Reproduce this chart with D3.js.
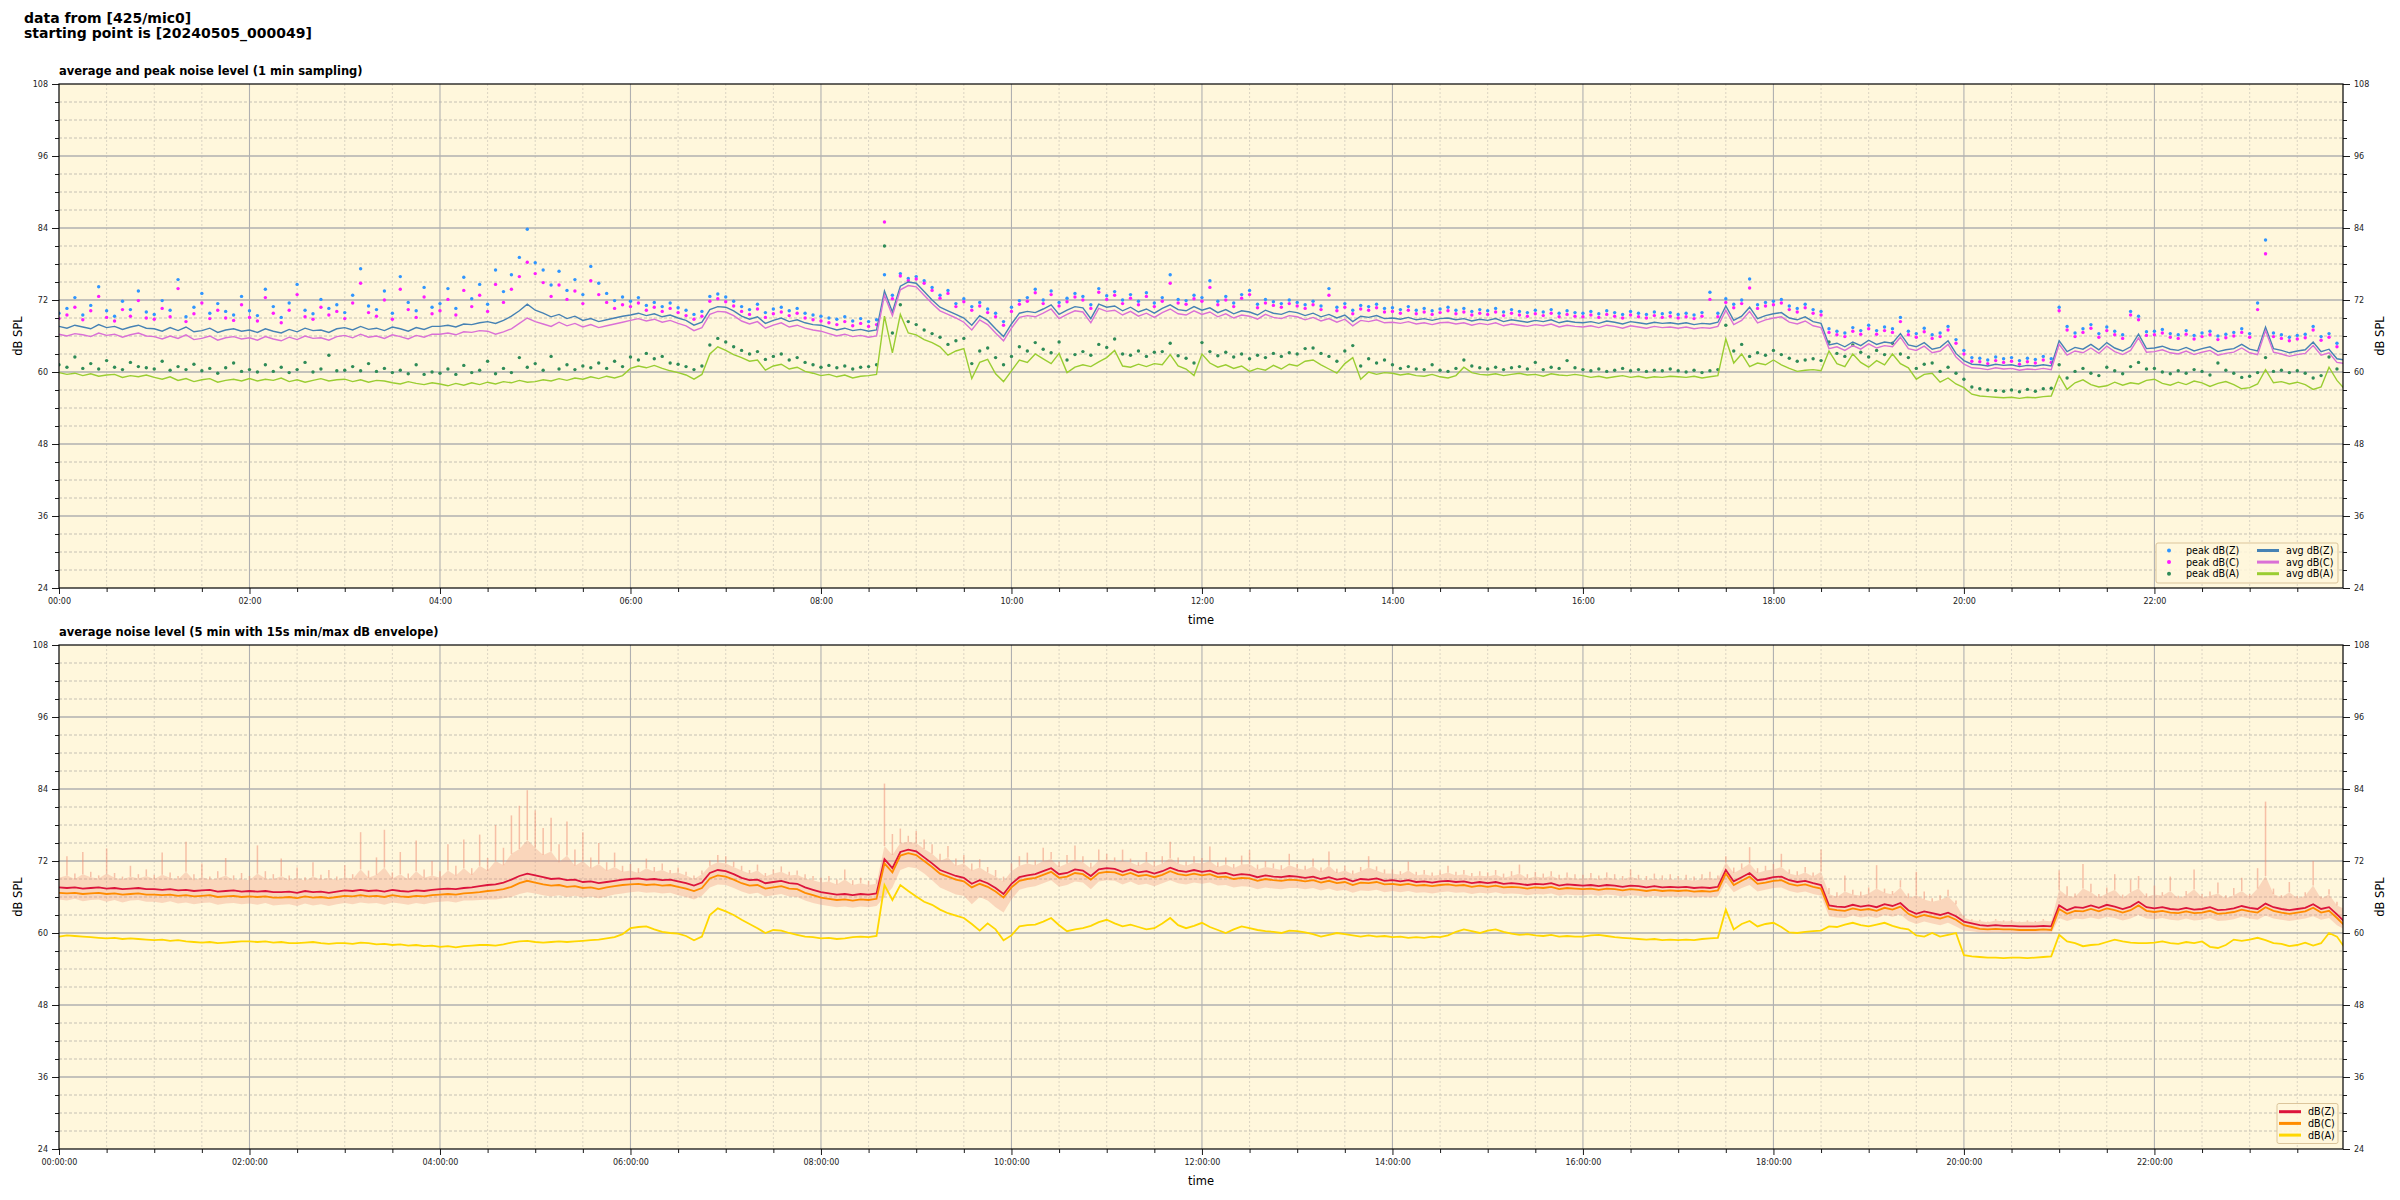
<!DOCTYPE html>
<html><head><meta charset="utf-8">
<script src="https://cdn.jsdelivr.net/npm/d3@7"></script>
<style>body{margin:0;background:#fff;} svg{display:block;font-family:"DejaVu Sans",sans-serif;}</style>
</head><body><svg id="c" width="2400" height="1200"></svg>
<script>
// ---------------- DATA (5-minute steps from 00:00) ----------------
const startDate = "2024-05-05";
const stepMinutes = 5;
const yTicks = [24, 36, 48, 60, 72, 84, 96, 108];
const legendTop = ["peak dB(Z)", "peak dB(C)", "peak dB(A)", "avg dB(Z)", "avg dB(C)", "avg dB(A)"];
const legendBottom = ["dB(Z)", "dB(C)", "dB(A)"];

const avgZ = [
67.6,67.3,67.8,67.5,67.2,67.9,67.4,67.6,67.1,67.5,67.8,67.3,
67.2,66.8,67.4,66.9,67.5,66.7,66.9,67.3,66.6,67.0,67.2,66.8,
67.0,66.6,67.2,66.8,66.5,67.1,66.7,67.3,66.9,67.0,66.6,67.2,
67.4,67.0,67.6,67.1,67.3,66.9,67.5,67.2,66.8,67.4,67.1,67.6,
67.6,67.8,67.5,68.0,67.9,68.2,68.4,68.1,68.6,69.3,70.2,71.3,
70.3,69.8,69.2,69.6,68.9,69.3,68.6,68.9,68.4,68.7,69.0,69.3,
69.5,69.8,69.4,69.7,69.2,69.5,69.0,68.6,67.8,68.3,70.4,70.9,
70.8,70.2,69.3,68.8,69.2,68.1,68.6,69.0,68.4,68.7,68.2,67.9,
67.8,67.4,67.0,67.3,66.9,67.1,66.8,67.0,73.5,70.0,74.3,75.0,
74.8,73.4,72.0,70.8,70.2,69.6,69.0,67.8,69.4,68.6,67.2,65.9,
68.0,69.8,70.1,69.9,70.5,71.2,69.6,70.3,70.9,70.7,68.9,71.3,
70.8,71.0,70.2,70.8,70.0,70.5,69.8,70.6,71.2,70.4,70.2,70.9,
70.3,70.7,69.9,70.4,69.7,70.2,70.0,69.5,70.3,69.8,69.6,70.1,
69.9,69.4,69.8,69.2,69.6,69.0,69.5,68.4,69.3,69.1,69.4,68.9,
69.0,68.8,69.1,68.7,68.9,68.6,68.9,69.0,68.7,68.9,68.5,68.8,
68.6,68.9,68.4,68.7,68.5,68.3,68.6,68.4,68.7,68.2,68.5,68.3,
68.2,68.4,68.1,68.5,68.3,68.0,68.4,68.2,68.0,68.3,68.1,68.2,
68.0,68.2,67.9,68.1,68.0,68.3,71.0,68.6,69.3,70.8,68.9,69.4,
69.7,69.9,69.0,68.7,69.2,68.4,68.1,64.5,64.8,64.2,65.0,64.4,
65.3,64.6,65.0,64.8,66.4,64.5,64.2,64.9,63.8,64.1,65.2,63.1,
61.9,61.3,61.2,61.0,61.3,61.1,61.2,60.9,61.1,61.0,61.2,61.0,
65.2,63.4,64.1,63.8,64.6,63.7,64.9,64.0,63.5,64.2,66.3,63.9,
64.0,64.3,63.8,63.6,64.1,63.5,63.9,64.2,63.4,63.7,63.9,64.6,
63.8,63.5,67.5,63.9,63.6,63.2,63.5,63.7,65.0,63.4,63.8,62.2,
62.0];

const avgC = [
66.3,66.0,66.4,66.2,65.9,66.5,66.1,66.3,65.8,66.2,66.5,66.0,
65.9,65.5,66.0,65.6,66.2,65.4,65.6,66.0,65.3,65.7,65.9,65.5,
65.7,65.3,65.9,65.5,65.2,65.8,65.4,66.0,65.6,65.7,65.3,65.9,
66.1,65.7,66.3,65.8,66.0,65.6,66.2,65.9,65.5,66.1,65.8,66.3,
66.3,66.5,66.2,66.7,66.6,66.9,66.8,66.3,66.7,67.2,68.1,69.0,
68.4,68.0,67.6,68.3,67.7,68.1,67.5,67.9,67.4,67.7,68.0,68.3,
68.6,68.9,68.5,68.8,68.3,68.6,68.1,67.7,66.9,67.4,69.6,70.1,
70.0,69.4,68.5,68.0,68.4,67.3,67.8,68.2,67.5,67.8,67.3,67.0,
66.8,66.4,66.0,66.3,65.9,66.1,65.8,66.0,72.8,69.4,73.7,74.4,
74.2,72.8,71.4,70.2,69.6,69.0,68.3,67.0,68.7,67.9,66.5,65.2,
67.3,69.1,69.4,69.2,69.8,70.5,68.9,69.6,70.2,70.0,68.2,70.6,
70.1,70.3,69.5,70.1,69.3,69.8,69.1,69.9,70.5,69.7,69.5,70.2,
69.6,70.0,69.2,69.7,69.0,69.5,69.3,68.8,69.6,69.1,68.9,69.4,
69.2,68.7,69.1,68.5,68.9,68.3,68.8,67.7,68.6,68.4,68.7,68.2,
68.3,68.1,68.4,68.0,68.2,67.9,68.2,68.3,68.0,68.2,67.8,68.1,
67.9,68.2,67.7,68.0,67.8,67.6,67.9,67.7,68.0,67.5,67.8,67.6,
67.5,67.7,67.4,67.8,67.6,67.3,67.7,67.5,67.3,67.6,67.4,67.5,
67.3,67.5,67.2,67.4,67.3,67.6,70.3,67.9,68.6,70.1,68.2,68.7,
69.0,69.2,68.3,68.0,68.5,67.7,67.4,63.9,64.2,63.6,64.4,63.8,
64.7,64.0,64.4,64.2,65.8,63.9,63.6,64.3,63.2,63.5,64.6,62.5,
61.3,60.7,60.6,60.4,60.7,60.5,60.6,60.3,60.5,60.4,60.6,60.4,
64.6,62.8,63.5,63.2,64.0,63.1,64.3,63.4,62.9,63.6,65.7,63.3,
63.4,63.7,63.2,63.0,63.5,62.9,63.3,63.6,62.8,63.1,63.3,64.0,
63.2,62.9,66.9,63.3,63.0,62.6,62.9,63.1,64.4,62.8,63.2,61.6,
61.4];

const avgA = [
59.9,59.6,59.8,59.4,59.7,59.3,59.5,59.6,59.1,59.4,59.2,59.5,
59.1,58.8,59.2,58.6,58.9,58.4,58.7,58.9,58.3,58.6,58.8,58.5,
58.9,58.5,58.8,58.6,59.0,58.4,58.7,58.3,58.6,58.9,58.5,58.7,
58.8,58.4,58.7,58.3,58.6,58.5,58.2,58.0,58.4,58.1,57.9,58.2,
58.0,57.7,58.1,57.8,58.2,57.9,58.3,58.0,58.4,58.2,58.6,58.3,
58.4,58.7,58.5,58.9,58.6,59.0,58.8,59.2,58.9,59.3,59.0,59.4,
60.6,61.0,60.7,61.1,60.6,60.2,59.9,59.5,58.8,59.6,63.0,64.2,
63.6,62.9,62.4,61.8,62.0,60.3,61.0,61.3,60.5,60.8,60.1,59.8,
59.4,59.6,59.2,59.5,59.0,59.3,59.4,59.6,69.3,63.2,69.6,66.5,
66.2,65.4,64.9,64.2,62.8,63.5,63.9,58.9,61.6,62.1,59.7,58.4,
60.2,62.0,61.6,63.0,62.2,61.4,63.1,59.9,60.8,61.2,60.9,61.7,
62.4,63.6,61.0,60.8,61.3,60.9,61.4,61.2,62.9,61.0,60.5,59.4,
63.0,61.5,60.8,61.2,60.6,61.0,60.1,60.6,60.3,61.1,60.5,61.3,
61.0,61.8,62.0,61.2,60.5,59.8,61.4,62.4,58.8,60.0,59.6,59.9,
59.8,59.5,59.7,59.4,59.3,59.6,59.2,59.0,59.4,60.8,59.9,59.6,
59.5,59.7,59.4,59.6,59.8,59.5,59.6,59.3,59.7,59.5,59.4,59.6,
59.4,59.1,59.3,59.0,59.2,59.4,59.1,59.3,59.0,59.2,59.1,59.3,
59.2,59.1,59.3,59.0,59.2,59.4,65.5,61.5,63.0,60.9,61.5,61.2,
62.0,61.2,60.6,60.1,60.3,60.4,60.2,63.5,61.4,60.9,63.0,61.6,
60.8,61.9,61.2,63.0,61.4,60.7,58.8,59.6,59.8,58.3,59.0,58.0,
57.4,56.3,56.0,55.9,55.8,55.7,55.8,55.6,55.8,55.7,55.9,56.0,
59.4,57.1,58.2,58.7,57.9,57.5,57.7,58.3,57.8,58.2,58.0,58.6,
58.8,58.1,57.8,58.3,57.9,58.5,58.2,57.6,58.1,58.4,57.9,57.2,
57.4,58.0,60.4,58.2,58.4,58.0,58.3,57.9,57.1,57.5,60.8,58.6,
57.1];

const peakZ = [
69.8,70.6,72.4,69.5,71.1,74.2,70.2,69.3,71.8,70.4,73.5,70.0,
69.6,71.9,70.3,75.4,69.2,70.8,73.1,69.8,71.4,70.1,69.5,72.6,
70.2,69.4,73.8,70.9,69.1,71.5,74.6,70.3,69.7,72.1,70.6,71.2,
69.9,72.8,77.2,71.0,70.4,73.5,69.8,75.9,71.6,70.2,74.1,70.8,
71.4,73.9,70.6,75.8,72.2,74.6,71.3,77.0,73.4,76.2,79.1,83.8,
78.2,77.0,74.5,76.8,73.6,75.4,72.9,77.6,74.8,73.1,71.9,72.5,
71.8,72.4,71.1,71.6,70.9,71.5,70.7,70.3,69.6,70.1,72.6,73.0,
72.5,71.8,70.9,70.4,71.3,69.9,70.5,70.8,70.2,70.6,69.8,69.5,
69.3,69.0,68.8,69.2,68.5,68.9,68.4,68.7,76.2,72.8,76.4,75.6,
75.9,75.2,74.1,72.8,73.6,71.4,72.2,70.9,71.6,70.5,69.8,68.4,
70.8,71.9,72.4,73.8,72.0,73.5,71.6,72.3,73.1,72.6,71.2,73.9,
72.7,73.4,72.0,72.9,71.8,73.2,71.5,72.4,76.2,72.1,71.9,72.8,
72.4,75.2,71.8,72.6,71.5,72.9,73.6,71.3,72.1,71.7,71.4,72.0,
71.6,71.2,71.8,71.0,73.9,70.8,71.4,70.3,71.1,70.9,71.3,70.6,
70.7,70.4,70.9,70.3,70.6,70.2,70.5,70.8,70.3,70.6,70.1,70.4,
70.2,70.6,70.0,70.4,70.1,69.9,70.3,70.0,70.4,69.8,70.2,69.9,
69.8,70.1,69.7,70.2,69.9,69.6,70.1,69.8,69.6,70.0,69.7,69.9,
69.6,69.8,69.5,69.9,73.3,69.8,72.2,71.3,72.0,75.5,71.2,71.6,
71.8,72.1,71.0,70.6,71.3,70.4,70.1,67.2,66.8,66.5,67.4,66.9,
67.8,66.9,67.5,67.2,69.1,66.8,66.4,67.3,66.2,66.5,67.6,65.4,
63.6,62.4,62.3,62.0,62.5,62.2,62.4,61.9,62.3,62.1,62.6,62.2,
70.8,67.6,66.5,67.2,67.9,66.4,67.5,66.8,66.2,70.1,69.3,66.7,
66.8,67.1,66.4,66.2,66.9,66.1,66.5,66.8,66.0,66.3,66.6,67.2,
66.4,71.5,82.0,66.5,66.2,65.8,66.1,66.3,67.6,65.9,66.4,64.8,
64.4];

const peakC = [
68.9,69.5,70.8,68.7,70.2,72.6,69.1,68.5,70.4,69.3,71.9,69.0,
68.8,70.6,69.2,73.9,68.4,69.7,71.5,68.9,70.3,69.0,68.6,71.2,
69.1,68.5,72.4,69.8,68.2,70.3,72.9,69.2,68.8,70.8,69.5,70.1,
68.9,71.5,74.8,69.9,69.3,72.0,68.8,73.8,70.4,69.1,72.5,69.7,
70.2,72.1,69.5,73.6,70.9,72.8,70.1,74.6,71.6,73.8,75.9,78.3,
76.4,74.9,72.6,74.5,72.1,73.5,71.4,75.2,72.9,71.6,70.6,71.2,
70.9,71.5,70.3,70.8,70.1,70.6,69.9,69.4,68.8,69.3,71.8,72.2,
71.7,71.0,70.1,69.6,70.5,69.1,69.7,70.0,69.4,69.8,69.0,68.7,
68.5,68.2,67.9,68.4,67.7,68.1,67.6,67.9,85.0,72.2,76.0,75.2,
75.5,74.8,73.6,72.3,73.1,70.9,71.7,70.3,71.0,69.9,69.2,67.8,
70.1,71.3,71.8,73.2,71.4,72.9,71.0,71.7,72.5,72.0,70.6,73.3,
72.1,72.8,71.4,72.3,71.2,72.6,70.9,71.8,74.8,71.5,71.3,72.2,
71.8,74.1,71.2,72.0,70.9,72.3,72.9,70.7,71.5,71.1,70.8,71.4,
71.0,70.6,71.2,70.4,72.8,70.2,70.8,69.7,70.5,70.3,70.7,70.0,
70.1,69.8,70.3,69.7,70.0,69.6,69.9,70.2,69.7,70.0,69.5,69.8,
69.6,70.0,69.4,69.8,69.5,69.3,69.7,69.4,69.8,69.2,69.6,69.3,
69.2,69.5,69.1,69.6,69.3,69.0,69.5,69.2,69.0,69.4,69.1,69.3,
69.0,69.2,68.9,69.3,72.1,69.2,71.6,70.7,71.4,74.0,70.6,71.0,
71.2,71.5,70.4,70.0,70.7,69.8,69.5,66.6,66.2,65.9,66.8,66.3,
67.2,66.3,66.9,66.6,68.4,66.2,65.8,66.7,65.6,65.9,67.0,64.8,
63.0,61.8,61.7,61.4,61.9,61.6,61.8,61.3,61.7,61.5,62.0,61.6,
70.2,67.0,65.9,66.6,67.3,65.8,66.9,66.2,65.6,69.5,68.7,66.1,
66.2,66.5,65.8,65.6,66.3,65.5,65.9,66.2,65.4,65.7,66.0,66.6,
65.8,70.4,79.7,65.9,65.6,65.2,65.5,65.7,67.0,65.3,65.8,64.2,
63.8];

const peakA = [
61.2,60.8,62.5,60.6,61.4,60.5,61.9,60.8,60.4,61.6,60.9,60.7,
60.5,61.8,60.3,60.9,60.4,61.3,60.2,60.6,59.8,60.7,61.5,60.1,
60.4,60.0,61.2,60.1,60.8,59.9,60.4,61.6,60.0,60.5,62.8,60.2,
60.3,60.9,60.2,61.4,60.1,60.6,59.9,60.3,59.7,61.2,59.6,60.0,
59.8,60.5,59.6,61.1,59.9,60.3,61.8,59.7,60.6,59.9,62.4,60.8,
61.4,60.3,62.6,60.5,61.2,60.4,61.0,60.7,61.5,60.6,61.8,60.9,
62.5,62.0,63.1,62.2,62.6,61.5,61.3,60.9,60.4,61.0,64.5,65.6,
65.0,64.2,63.6,63.0,63.4,62.1,62.6,63.0,62.0,62.4,61.6,61.2,
60.8,61.1,60.7,61.0,60.5,60.8,60.9,61.2,81.0,66.5,71.2,68.4,
67.9,67.0,66.4,65.8,64.6,65.2,65.6,61.4,63.5,64.0,62.4,61.2,
62.6,64.2,63.5,64.9,63.8,63.2,65.0,62.0,62.9,63.4,62.8,64.6,
64.1,65.5,63.0,62.8,63.5,62.6,63.3,63.4,64.8,62.7,62.3,61.5,
64.9,63.4,62.7,63.3,62.5,63.0,62.2,62.8,62.4,63.1,62.6,63.2,
63.0,63.9,64.0,63.1,62.6,61.8,63.5,64.4,61.0,62.2,61.5,62.0,
61.2,60.6,60.9,60.5,60.4,61.2,60.3,60.1,60.6,62.0,61.0,60.7,
60.5,60.8,60.4,60.7,60.9,60.5,61.6,60.4,60.8,60.6,61.9,60.7,
60.4,60.2,60.5,60.1,60.3,60.6,60.2,60.4,60.1,60.3,60.2,60.5,
60.2,60.0,60.3,59.9,60.2,60.4,67.8,63.5,64.6,62.6,63.2,62.8,
63.6,62.9,62.3,61.8,62.0,62.2,61.9,65.0,63.1,62.6,64.5,63.3,
62.5,63.6,62.9,64.8,63.0,62.4,60.6,61.3,61.5,60.1,60.8,59.8,
58.8,57.5,57.2,57.0,56.9,56.8,57.0,56.7,57.1,56.8,57.2,57.3,
61.2,59.0,60.1,60.6,59.8,59.4,60.8,60.2,59.7,60.9,61.6,60.5,
60.6,60.0,59.7,60.2,59.8,60.4,60.1,59.5,61.5,60.3,59.8,59.1,
59.3,59.9,62.4,60.1,60.3,59.9,60.2,59.8,59.0,59.4,62.5,60.5,
59.0];

// 5-min averages (bottom panel)
const lvlZ = [
67.6,67.5,67.6,67.4,67.5,67.6,67.4,67.5,67.3,67.4,67.5,67.3,
67.3,67.2,67.3,67.1,67.2,67.0,67.1,67.2,66.9,67.0,67.1,66.9,
67.0,66.9,67.0,66.8,66.8,66.9,66.7,67.0,66.8,66.9,66.7,66.9,
67.1,67.0,67.2,67.0,67.1,66.9,67.2,67.0,66.9,67.1,67.0,67.2,
67.3,67.4,67.3,67.5,67.6,67.8,68.0,68.1,68.4,68.9,69.5,69.9,
69.6,69.3,69.0,69.1,68.8,68.9,68.5,68.6,68.3,68.5,68.7,68.9,
69.0,69.1,68.9,69.0,68.8,68.9,68.6,68.3,67.9,68.4,70.0,70.5,
70.3,69.8,69.2,68.8,68.9,68.3,68.5,68.7,68.3,68.2,67.6,67.2,
66.8,66.6,66.4,66.5,66.3,66.5,66.4,66.6,72.3,70.8,73.5,73.9,
73.6,72.6,71.6,70.5,70.0,69.5,69.2,68.2,68.8,68.3,67.5,66.5,
68.2,69.3,69.6,69.8,70.3,70.8,69.8,70.0,70.6,70.4,69.5,70.6,
70.8,70.7,70.2,70.6,70.1,70.3,69.9,70.3,70.9,70.4,70.2,70.5,
70.2,70.4,69.9,70.0,69.6,69.8,69.7,69.3,69.6,69.4,69.3,69.5,
69.4,69.2,69.4,69.0,69.3,68.9,69.1,68.6,69.0,68.9,69.1,68.7,
68.8,68.6,68.8,68.5,68.6,68.4,68.6,68.7,68.5,68.6,68.3,68.5,
68.3,68.5,68.2,68.3,68.2,68.0,68.2,68.1,68.3,67.9,68.1,68.0,
67.9,68.0,67.8,68.0,67.9,67.7,67.9,67.8,67.6,67.8,67.6,67.7,
67.6,67.7,67.5,67.6,67.5,67.7,70.5,68.6,69.3,70.0,68.8,69.0,
69.3,69.4,68.8,68.5,68.7,68.3,68.0,64.6,64.4,64.3,64.7,64.4,
64.6,64.3,64.8,64.5,65.0,63.8,63.2,63.6,63.3,63.0,63.4,62.8,
61.9,61.6,61.3,61.2,61.3,61.2,61.2,61.1,61.1,61.1,61.2,61.1,
64.6,63.8,64.3,64.2,64.6,64.2,64.7,64.4,64.0,64.4,65.2,64.3,
64.1,64.3,64.0,63.9,64.2,63.9,64.0,64.3,63.8,63.9,64.1,64.5,
64.2,64.0,64.9,64.3,64.0,63.8,64.0,64.2,64.8,64.0,64.3,63.1,
61.8];

const lvlC = [
66.7,66.6,66.7,66.5,66.6,66.7,66.5,66.6,66.4,66.5,66.6,66.4,
66.4,66.3,66.4,66.2,66.3,66.1,66.2,66.3,66.0,66.1,66.2,66.0,
66.1,66.0,66.1,65.9,65.9,66.0,65.8,66.1,65.9,66.0,65.8,66.0,
66.2,66.1,66.3,66.1,66.2,66.0,66.3,66.1,66.0,66.2,66.1,66.3,
66.4,66.5,66.4,66.6,66.7,66.8,67.0,67.1,67.3,67.7,68.3,68.7,
68.4,68.1,67.9,68.0,67.7,67.8,67.5,67.6,67.3,67.6,67.8,68.0,
68.1,68.2,68.0,68.1,67.9,68.0,67.7,67.4,67.0,67.5,69.1,69.6,
69.4,68.9,68.3,67.9,68.0,67.4,67.6,67.8,67.4,67.3,66.7,66.3,
65.9,65.7,65.5,65.6,65.4,65.6,65.5,65.7,71.6,70.1,72.9,73.3,
73.0,72.0,71.0,69.9,69.4,68.9,68.6,67.6,68.2,67.7,66.9,65.9,
67.6,68.7,69.0,69.2,69.7,70.2,69.2,69.4,70.0,69.8,68.9,70.0,
70.2,70.1,69.6,70.0,69.5,69.7,69.3,69.7,70.3,69.8,69.6,69.9,
69.6,69.8,69.3,69.4,69.0,69.2,69.1,68.7,69.0,68.8,68.7,68.9,
68.8,68.6,68.8,68.4,68.7,68.3,68.5,68.0,68.4,68.3,68.5,68.1,
68.2,68.0,68.2,67.9,68.0,67.8,68.0,68.1,67.9,68.0,67.7,67.9,
67.7,67.9,67.6,67.7,67.6,67.4,67.6,67.5,67.7,67.3,67.5,67.4,
67.3,67.4,67.2,67.4,67.3,67.1,67.3,67.2,67.0,67.2,67.0,67.1,
67.0,67.1,66.9,67.0,66.9,67.1,69.9,68.0,68.7,69.4,68.2,68.4,
68.7,68.8,68.2,67.9,68.1,67.7,67.4,64.0,63.8,63.7,64.1,63.8,
64.0,63.7,64.2,63.9,64.4,63.2,62.6,63.0,62.7,62.4,62.8,62.2,
61.3,61.0,60.7,60.6,60.7,60.6,60.6,60.5,60.5,60.5,60.6,60.5,
64.0,63.2,63.7,63.6,64.0,63.6,64.1,63.8,63.4,63.8,64.6,63.7,
63.5,63.7,63.4,63.3,63.6,63.3,63.4,63.7,63.2,63.3,63.5,63.9,
63.6,63.4,64.3,63.7,63.4,63.2,63.4,63.6,64.2,63.4,63.7,62.5,
61.2];

const lvlA = [
59.4,59.6,59.5,59.4,59.3,59.2,59.1,59.2,59.0,59.1,59.0,58.9,
58.8,58.9,58.7,58.8,58.6,58.5,58.4,58.5,58.3,58.4,58.5,58.6,
58.6,58.5,58.6,58.4,58.5,58.3,58.3,58.4,58.5,58.3,58.2,58.3,
58.3,58.2,58.4,58.3,58.1,58.2,58.0,58.1,57.9,58.0,57.8,57.9,
57.7,57.8,57.6,57.8,57.9,58.0,58.0,57.9,58.1,58.4,58.6,58.7,
58.5,58.4,58.5,58.6,58.5,58.6,58.7,58.8,58.9,59.1,59.3,59.8,
60.8,61.0,61.1,60.6,60.2,60.0,59.9,59.5,58.8,59.4,63.0,64.1,
63.6,63.0,62.2,61.5,60.8,60.0,60.5,60.4,60.0,59.7,59.4,59.3,
59.1,59.2,59.0,59.1,59.3,59.4,59.3,59.5,68.0,65.5,68.0,67.0,
66.1,65.2,64.7,63.9,63.3,62.9,62.5,61.5,60.4,61.6,60.6,58.8,
59.6,61.1,61.3,61.4,61.9,62.5,61.3,60.3,60.6,60.8,61.2,61.8,
62.2,61.6,61.1,61.4,61.0,60.6,60.8,61.6,62.5,61.3,60.8,61.2,
61.7,61.0,60.5,60.0,60.6,61.1,60.8,60.5,60.3,60.2,60.0,60.4,
60.3,60.1,59.8,59.4,59.7,60.0,59.8,59.6,59.4,59.6,59.4,59.5,
59.3,59.4,59.2,59.3,59.2,59.4,59.3,59.6,60.2,60.6,60.3,60.0,
60.4,60.6,60.2,59.9,59.7,59.8,59.6,59.5,59.7,59.4,59.5,59.4,
59.4,59.6,59.7,59.5,59.3,59.2,59.1,59.0,58.9,59.0,58.8,58.9,
58.8,58.9,58.8,59.0,59.1,59.2,63.9,60.6,61.5,62.0,61.1,61.5,
61.7,61.0,60.1,60.0,60.2,60.3,60.4,61.1,61.0,61.4,61.7,61.3,
61.1,61.4,61.7,61.2,60.8,60.6,59.6,59.4,60.0,59.4,59.7,60.0,
56.3,56.1,56.0,55.9,55.9,55.8,55.9,55.9,55.8,55.9,56.0,56.1,
59.7,58.6,58.3,57.8,58.0,58.1,58.5,58.9,58.6,58.4,58.3,58.3,
58.4,58.6,58.3,58.2,58.5,58.3,58.6,57.7,57.5,58.0,58.9,58.7,
58.9,59.2,58.8,58.3,58.2,57.8,58.0,58.4,57.9,58.3,60.0,59.4,
57.5];

// 15 s envelope: dense band (envMin..envMax) and isolated spikes (envSpike)
const envMax = [
69.2,69.6,69.0,69.8,69.3,69.1,69.9,69.2,68.9,69.4,69.1,69.5,
69.0,69.7,69.2,68.9,70.2,68.8,69.3,68.9,69.1,69.6,68.8,69.0,
68.8,69.9,69.1,68.9,69.5,68.8,69.2,68.7,69.4,68.9,69.2,68.8,
69.3,69.0,70.6,69.2,69.7,70.9,69.1,69.8,68.9,70.3,69.2,69.6,
69.2,70.4,69.6,70.8,69.7,71.2,70.4,72.0,71.3,73.2,74.0,75.5,
74.2,73.0,73.6,71.8,72.9,71.2,72.0,70.8,71.5,70.4,71.0,70.2,
70.4,70.0,70.8,70.2,70.5,69.9,70.1,69.6,69.0,69.8,71.2,71.8,
71.6,71.0,70.4,69.9,70.4,69.4,69.9,70.2,69.6,69.7,69.1,68.8,
68.4,68.6,68.1,68.9,68.0,68.3,68.0,68.2,74.5,73.0,75.0,75.2,
75.0,74.0,73.2,72.0,72.6,71.2,71.6,70.4,70.9,70.1,69.4,68.6,
70.3,71.2,71.6,71.3,72.0,72.3,71.0,71.6,72.2,71.8,70.8,72.1,
72.2,71.9,72.0,71.8,71.2,71.9,71.1,71.6,72.5,71.6,71.2,71.7,
71.6,72.0,71.0,71.4,70.8,71.4,71.5,70.6,71.0,70.8,70.5,71.3,
70.8,70.5,71.1,70.2,71.2,70.0,70.4,69.8,70.3,70.9,70.4,69.9,
69.9,69.7,70.4,69.6,69.8,69.5,69.7,70.1,69.6,69.8,69.4,69.6,
69.4,69.7,69.2,69.5,69.9,69.1,69.4,69.2,69.5,69.0,69.3,69.1,
69.0,69.2,68.9,69.3,69.0,68.8,69.4,68.9,68.8,69.1,68.8,69.0,
68.8,68.9,68.7,69.0,69.2,68.9,71.8,70.0,70.7,71.6,70.0,70.4,
70.6,71.0,69.9,69.6,70.1,69.4,70.2,66.5,66.0,66.9,66.4,66.2,
66.6,67.4,66.7,66.4,67.6,65.8,66.3,65.6,65.2,65.5,66.1,64.8,
62.6,62.1,62.0,61.8,62.1,61.9,62.0,61.8,61.9,61.8,62.1,61.9,
67.2,66.2,66.0,67.4,66.8,65.9,66.6,67.2,65.8,66.8,67.4,66.0,
66.4,66.2,67.0,65.8,66.3,67.3,65.9,66.2,66.6,65.8,66.3,67.0,
66.0,67.4,69.5,66.5,65.9,66.8,65.8,66.2,67.9,65.7,66.4,64.6,
64.0];

const envSpike = [
70.5,72.8,69.9,73.5,70.2,69.6,74.1,70.0,69.4,71.2,69.8,70.6,
69.7,73.4,70.1,69.5,75.2,69.8,71.6,69.4,70.3,72.5,69.6,70.0,
69.5,74.6,70.3,69.8,72.4,69.6,70.9,69.3,71.8,69.7,70.5,69.4,
71.3,69.8,76.8,70.4,72.6,77.2,70.1,73.5,69.9,75.4,70.6,72.0,
70.3,74.8,71.2,75.6,70.8,76.4,72.5,78.0,74.2,79.6,81.2,83.8,
80.4,77.5,79.2,74.8,78.6,73.9,76.8,72.6,75.0,71.8,73.4,71.2,
71.5,70.8,72.4,71.0,71.6,70.5,70.9,70.2,69.6,70.4,72.1,73.0,
72.8,71.9,71.2,70.5,71.4,70.0,70.6,71.1,70.2,70.4,69.8,69.5,
69.2,69.5,68.9,70.6,68.8,69.2,68.7,68.9,84.9,76.5,77.4,76.2,
77.0,75.6,74.8,73.2,74.5,72.4,73.0,71.6,72.3,71.0,70.5,69.4,
71.6,72.8,73.4,72.1,74.2,73.5,71.9,73.0,74.6,72.8,71.7,73.9,
73.2,72.6,73.9,72.4,71.8,73.5,72.0,72.8,75.2,72.6,71.9,72.8,
72.5,74.4,71.8,72.6,71.5,72.9,73.8,71.4,72.0,71.6,71.3,73.2,
71.5,71.2,72.4,70.9,73.6,70.7,71.2,70.4,71.0,72.8,71.1,70.6,
70.6,70.3,71.9,70.2,70.5,70.1,70.4,71.2,70.2,70.5,70.0,70.3,
70.1,70.5,69.9,70.3,71.4,69.8,70.2,69.9,70.3,69.7,70.1,69.8,
69.7,70.0,69.6,70.1,69.8,69.5,70.6,69.7,69.5,69.9,69.6,69.8,
69.5,69.7,69.4,69.8,70.2,69.6,72.8,70.9,71.6,74.3,70.8,71.2,
71.5,73.2,70.6,70.3,71.0,70.1,73.9,67.5,66.8,69.6,67.2,66.9,
67.6,71.3,67.4,67.0,68.8,66.6,70.2,66.9,65.8,66.3,67.2,65.4,
62.9,62.3,62.2,61.9,62.3,62.1,62.2,61.9,62.1,62.0,62.3,62.0,
70.4,67.8,66.6,71.5,68.2,66.5,67.6,69.8,66.4,68.9,69.5,66.6,
67.9,66.8,69.4,66.2,67.0,70.6,66.5,66.9,68.4,66.3,67.5,69.2,
66.5,70.8,81.9,67.4,66.3,68.5,66.2,66.8,72.0,66.1,67.3,65.2,
64.8];

const envMin = [
65.6,65.4,65.7,65.3,65.5,65.6,65.2,65.5,65.1,65.4,65.5,65.2,
65.2,65.0,65.3,64.9,65.1,64.8,65.0,65.1,64.7,64.9,65.0,64.8,
64.9,64.7,65.0,64.6,64.7,64.8,64.5,64.9,64.6,64.8,64.5,64.8,
65.0,64.8,65.1,64.9,65.0,64.7,65.1,64.9,64.7,65.0,64.8,65.1,
65.2,65.3,65.1,65.4,65.4,65.5,65.6,65.6,65.8,66.0,66.5,66.8,
66.6,66.3,66.1,66.3,66.0,66.2,65.9,66.1,65.8,66.1,66.4,66.6,
66.8,66.9,66.7,66.8,66.6,66.7,66.3,66.0,65.6,66.2,67.6,68.1,
68.0,67.5,66.9,66.5,66.7,66.1,66.3,66.5,66.1,66.0,65.4,65.0,
64.7,64.5,64.3,64.4,64.2,64.4,64.3,64.5,66.0,67.6,70.5,71.0,
70.8,69.9,68.8,67.6,67.0,66.4,66.2,64.8,66.0,65.4,64.3,63.4,
65.6,67.2,67.6,67.8,68.3,68.8,67.7,68.0,68.6,68.4,67.3,68.6,
68.8,68.7,68.1,68.6,68.0,68.2,67.8,68.3,68.8,68.3,68.1,68.4,
68.2,68.4,67.9,68.0,67.6,67.8,67.7,67.3,67.6,67.4,67.3,67.5,
67.5,67.3,67.5,67.1,67.4,67.0,67.2,66.7,67.1,67.0,67.2,66.8,
67.0,66.8,67.0,66.7,66.8,66.6,66.8,66.9,66.7,66.8,66.5,66.7,
66.6,66.8,66.5,66.6,66.5,66.3,66.5,66.4,66.6,66.2,66.4,66.3,
66.3,66.4,66.2,66.4,66.3,66.1,66.3,66.2,66.0,66.2,66.0,66.1,
66.0,66.1,65.9,66.0,65.9,66.1,68.4,66.8,67.5,68.0,66.9,67.2,
67.5,67.6,67.0,66.7,66.9,66.5,66.2,62.8,62.6,62.5,62.9,62.6,
62.8,62.5,63.0,62.7,63.1,62.0,61.5,61.9,61.6,61.3,61.7,61.1,
60.4,60.3,60.1,60.0,60.1,60.0,60.0,59.9,59.9,59.9,60.0,59.9,
62.5,62.0,62.4,62.3,62.6,62.3,62.7,62.5,62.1,62.4,63.0,62.4,
62.3,62.5,62.2,62.1,62.4,62.1,62.2,62.5,62.0,62.1,62.3,62.7,
62.4,62.2,62.9,62.4,62.2,62.0,62.2,62.4,62.8,62.2,62.5,61.3,
60.6];

// ---------------- CHART ----------------
const svg = d3.select("#c");
const t0 = new Date(startDate + "T00:00:00Z");
const tAt = i => new Date(t0.getTime() + i * stepMinutes * 60000);
const tEnd = new Date(t0.getTime() + 23.98 * 3600000);
const X0 = 59, X1 = 2343;
const x = d3.scaleUtc().domain([t0, tEnd]).range([X0, X1]);

svg.append("text").attr("x", 24).attr("y", 23).attr("font-size", 14).attr("font-weight", "bold").text("data from [425/mic0]");
svg.append("text").attr("x", 24).attr("y", 38).attr("font-size", 14).attr("font-weight", "bold").text("starting point is [20240505_000049]");

function panel(id, y0, y1, title, fmt) {
  const g = svg.append("g");
  const y = d3.scaleLinear().domain([24, 108]).range([y1, y0]);
  const clip = "clip" + id;
  svg.append("clipPath").attr("id", clip).append("rect").attr("x", X0).attr("y", y0).attr("width", X1 - X0).attr("height", y1 - y0);
  g.append("rect").attr("x", X0).attr("y", y0).attr("width", X1 - X0).attr("height", y1 - y0).attr("fill", "#fff7dc");
  const majorX = d3.utcHour.every(2).range(t0, tEnd);
  const minorX = d3.utcMinute.every(30).range(t0, tEnd).filter(d => d.getUTCMinutes() !== 0 || d.getUTCHours() % 2 !== 0);
  const minorY = d3.range(27, 108, 3).filter(v => v % 12 !== 0);
  const majorY = yTicks.filter(v => v > 24 && v < 108);
  const grid = g.append("g");
  grid.selectAll(".mvx").data(minorX).join("line").attr("x1", d => x(d)).attr("x2", d => x(d)).attr("y1", y0).attr("y2", y1)
    .attr("stroke", "#d2ccbd").attr("stroke-width", 0.8).attr("stroke-dasharray", "2,2");
  grid.selectAll(".mhy").data(minorY).join("line").attr("x1", X0).attr("x2", X1).attr("y1", d => y(d)).attr("y2", d => y(d))
    .attr("stroke", "#b8b4aa").attr("stroke-width", 0.8).attr("stroke-dasharray", "3,2");
  grid.selectAll(".Mvx").data(majorX.filter(d => x(d) > X0 + 1)).join("line").attr("x1", d => x(d)).attr("x2", d => x(d)).attr("y1", y0).attr("y2", y1)
    .attr("stroke", "#b0b0b0").attr("stroke-width", 1.1);
  grid.selectAll(".Mhy").data(majorY).join("line").attr("x1", X0).attr("x2", X1).attr("y1", d => y(d)).attr("y2", d => y(d))
    .attr("stroke", "#b0b0b0").attr("stroke-width", 1.6);

  const styleAx = (sel) => { sel.select(".domain").remove(); sel.selectAll("line").attr("stroke", "#000").attr("stroke-width", 0.9);
    sel.selectAll("text").attr("font-size", 8).attr("font-family", "DejaVu Sans").attr("fill", "#222"); };
  g.append("g").attr("transform", `translate(${X0},0)`).call(d3.axisLeft(y).tickValues(yTicks).tickSize(7).tickPadding(4).tickFormat(d3.format("d"))).call(styleAx);
  g.append("g").attr("transform", `translate(${X0},0)`).call(d3.axisLeft(y).tickValues(minorY).tickSize(4).tickFormat("")).call(styleAx);
  g.append("g").attr("transform", `translate(${X1},0)`).call(d3.axisRight(y).tickValues(yTicks).tickSize(7).tickPadding(4).tickFormat(d3.format("d"))).call(styleAx);
  g.append("g").attr("transform", `translate(${X1},0)`).call(d3.axisRight(y).tickValues(minorY).tickSize(4).tickFormat("")).call(styleAx);
  g.append("g").attr("transform", `translate(0,${y1})`).call(d3.axisBottom(x).tickValues(majorX).tickSize(6).tickPadding(4).tickFormat(d3.utcFormat(fmt))).call(styleAx);
  g.append("g").attr("transform", `translate(0,${y1})`).call(d3.axisBottom(x).tickValues(minorX).tickSize(4).tickFormat("")).call(styleAx);

  g.append("text").attr("x", X0).attr("y", y0 - 9).attr("font-size", 11.5).attr("font-weight", "bold").text(title);
  g.append("text").attr("transform", `translate(22,${(y0 + y1) / 2}) rotate(-90)`).attr("text-anchor", "middle").attr("font-size", 11.5).text("dB SPL");
  g.append("text").attr("transform", `translate(2384,${(y0 + y1) / 2}) rotate(-90)`).attr("text-anchor", "middle").attr("font-size", 11.5).text("dB SPL");
  g.append("text").attr("x", (X0 + X1) / 2).attr("y", y1 + 36).attr("text-anchor", "middle").attr("font-size", 11.5).text("time");

  const plot = svg.append("g").attr("clip-path", `url(#${clip})`);
  return {g, y, plot, y0, y1};
}

const P1 = panel("a", 84, 588, "average and peak noise level (1 min sampling)", "%H:%M");
const P2 = panel("b", 645, 1149, "average noise level (5 min with 15s min/max dB envelope)", "%H:%M:%S");

// top: peaks + averages
const dots = (arr, color) => P1.plot.append("g").selectAll("circle").data(arr).join("circle")
  .attr("cx", (d, i) => x(tAt(i))).attr("cy", d => P1.y(d)).attr("r", 1.7).attr("fill", color);
dots(peakZ, "#2f95ff"); dots(peakC, "#ff1aff"); dots(peakA, "#2e8b57");
const line1 = d3.line().x((d, i) => x(tAt(i))).y(d => P1.y(d));
[[avgZ, "#4682b4"], [avgC, "#da70d6"], [avgA, "#9acd32"]].forEach(([a, c]) =>
  P1.plot.append("path").datum(a).attr("d", line1).attr("fill", "none").attr("stroke", c).attr("stroke-width", 1.4));

// bottom: envelope band + spikes + levels
const envColor = "#f08a70";
const env = envMax.map((v, i) => [v, envMin[i]]);
P2.plot.append("path").datum(env).attr("d", d3.area().x((d, i) => x(tAt(i))).y0(d => P2.y(d[1])).y1(d => P2.y(d[0])))
  .attr("fill", envColor).attr("opacity", 0.3);
P2.plot.append("g").selectAll("line").data(envSpike).join("line")
  .attr("x1", (d, i) => x(tAt(i))).attr("x2", (d, i) => x(tAt(i)))
  .attr("y1", (d, i) => P2.y(envMax[i])).attr("y2", d => P2.y(d))
  .attr("stroke", envColor).attr("stroke-opacity", 0.5).attr("stroke-width", 1.5);
const line2 = d3.line().x((d, i) => x(tAt(i))).y(d => P2.y(d));
[[lvlZ, "#dc143c"], [lvlC, "#ff8c00"], [lvlA, "#ffd700"]].forEach(([a, c]) =>
  P2.plot.append("path").datum(a).attr("d", line2).attr("fill", "none").attr("stroke", c).attr("stroke-width", 1.8));

// legends
function legendBox(x0, y0, w, h) {
  svg.append("rect").attr("x", x0).attr("y", y0).attr("width", w).attr("height", h).attr("rx", 2)
    .attr("fill", "#fff7dc").attr("fill-opacity", 0.85).attr("stroke", "#dcc59b").attr("stroke-width", 1);
}
legendBox(2156, 543, 182, 40);
const topColors = ["#2f95ff", "#ff1aff", "#2e8b57", "#4682b4", "#da70d6", "#9acd32"];
legendTop.forEach((lab, i) => {
  const col = Math.floor(i / 3), row = i % 3;
  const yy = 550.5 + row * 11.6;
  if (col === 0) {
    svg.append("circle").attr("cx", 2169).attr("cy", yy).attr("r", 2).attr("fill", topColors[i]);
    svg.append("text").attr("x", 2186).attr("y", yy + 3.5).attr("font-size", 9.6).text(lab);
  } else {
    svg.append("line").attr("x1", 2257).attr("x2", 2279).attr("y1", yy).attr("y2", yy).attr("stroke", topColors[i]).attr("stroke-width", 3);
    svg.append("text").attr("x", 2286).attr("y", yy + 3.5).attr("font-size", 9.6).text(lab);
  }
});
legendBox(2277, 1103.5, 61, 40);
const botColors = ["#dc143c", "#ff8c00", "#ffd700"];
legendBottom.forEach((lab, i) => {
  const yy = 1111.7 + i * 11.7;
  svg.append("line").attr("x1", 2279).attr("x2", 2301).attr("y1", yy).attr("y2", yy).attr("stroke", botColors[i]).attr("stroke-width", 3);
  svg.append("text").attr("x", 2308).attr("y", yy + 3.5).attr("font-size", 9.6).text(lab);
});

// spines on top
[P1, P2].forEach(P => svg.append("rect").attr("x", X0).attr("y", P.y0).attr("width", X1 - X0).attr("height", P.y1 - P.y0)
  .attr("fill", "none").attr("stroke", "#000").attr("stroke-width", 1.2));
</script></body></html>
